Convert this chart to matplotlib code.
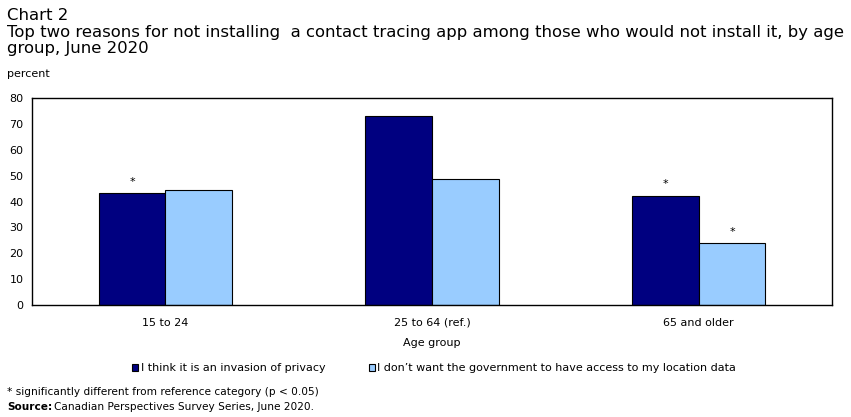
import matplotlib
matplotlib.use("Agg")
import matplotlib.pyplot as plt
import numpy as np
from matplotlib.patches import Patch

categories = ["15 to 24", "25 to 64 (ref.)", "65 and older"]
privacy = [43.2, 73.2, 42.1]
government = [44.4, 48.7, 23.9]
privacy_sig = [True, False, True]
government_sig = [False, False, True]
series_names = [
    "I think it is an invasion of privacy",
    "I don\u2019t want the government to have access to my location data",
]
yticks = [0, 10, 20, 30, 40, 50, 60, 70, 80]

DARK = "#000080"
LIGHT = "#99CCFF"

plt.rcParams["font.family"] = ["DejaVu Sans"]

fig = plt.figure(figsize=(8.51, 4.17), dpi=100)
ax = fig.add_axes([32 / 851, 1 - 305 / 417, 800 / 851, 207 / 417])

x = np.arange(len(categories))
w = 0.25
ax.bar(x - w / 2, privacy, w, color=DARK, edgecolor="black", linewidth=0.8)
ax.bar(x + w / 2, government, w, color=LIGHT, edgecolor="black", linewidth=0.8)

for i in range(len(categories)):
    if privacy_sig[i]:
        ax.text(x[i] - w / 2, privacy[i] + 4.5, "*", ha="center", va="center", fontsize=8)
    if government_sig[i]:
        ax.text(x[i] + w / 2, government[i] + 4.5, "*", ha="center", va="center", fontsize=8)

ax.set_xlim(-0.5, len(categories) - 0.5)
ax.set_ylim(0, 80)
ax.set_yticks(yticks)
ax.set_xticks(x)
ax.set_xticklabels(categories)
ax.tick_params(axis="both", labelsize=8, length=0, pad=6)
ax.tick_params(axis="x", pad=9)
for s in ax.spines.values():
    s.set_linewidth(1.0)

title_size = 11.85
fig.text(7 / 851, 1 - 15 / 417, "Chart 2", fontsize=title_size, va="center")
fig.text(7 / 851, 1 - 32 / 417,
         "Top two reasons for not installing  a contact tracing app among those who would not install it, by age",
         fontsize=title_size, va="center")
fig.text(7 / 851, 1 - 48 / 417, "group, June 2020", fontsize=title_size, va="center")
fig.text(7 / 851, 1 - 74 / 417, "percent", fontsize=8, va="center")
fig.text(432 / 851, 1 - 343 / 417, "Age group", fontsize=8, ha="center", va="center")

handles = [Patch(facecolor=DARK, edgecolor="black", linewidth=0.8),
           Patch(facecolor=LIGHT, edgecolor="black", linewidth=0.8)]
fig.legend(handles, series_names, loc="center", bbox_to_anchor=(434 / 851, 1 - 368 / 417),
           ncol=2, frameon=False, fontsize=8, handlelength=0.6, handleheight=0.6,
           handletextpad=0.2, columnspacing=3.9)

fig.text(7 / 851, 1 - 392 / 417, "* significantly different from reference category (p < 0.05)",
         fontsize=7.6, va="center")
fig.text(7 / 851, 1 - 407 / 417, "Source:", fontsize=7.6, va="center", fontweight="bold")
fig.text(54 / 851, 1 - 407 / 417, "Canadian Perspectives Survey Series, June 2020.",
         fontsize=7.6, va="center")

fig.savefig("out.png", dpi=100)
